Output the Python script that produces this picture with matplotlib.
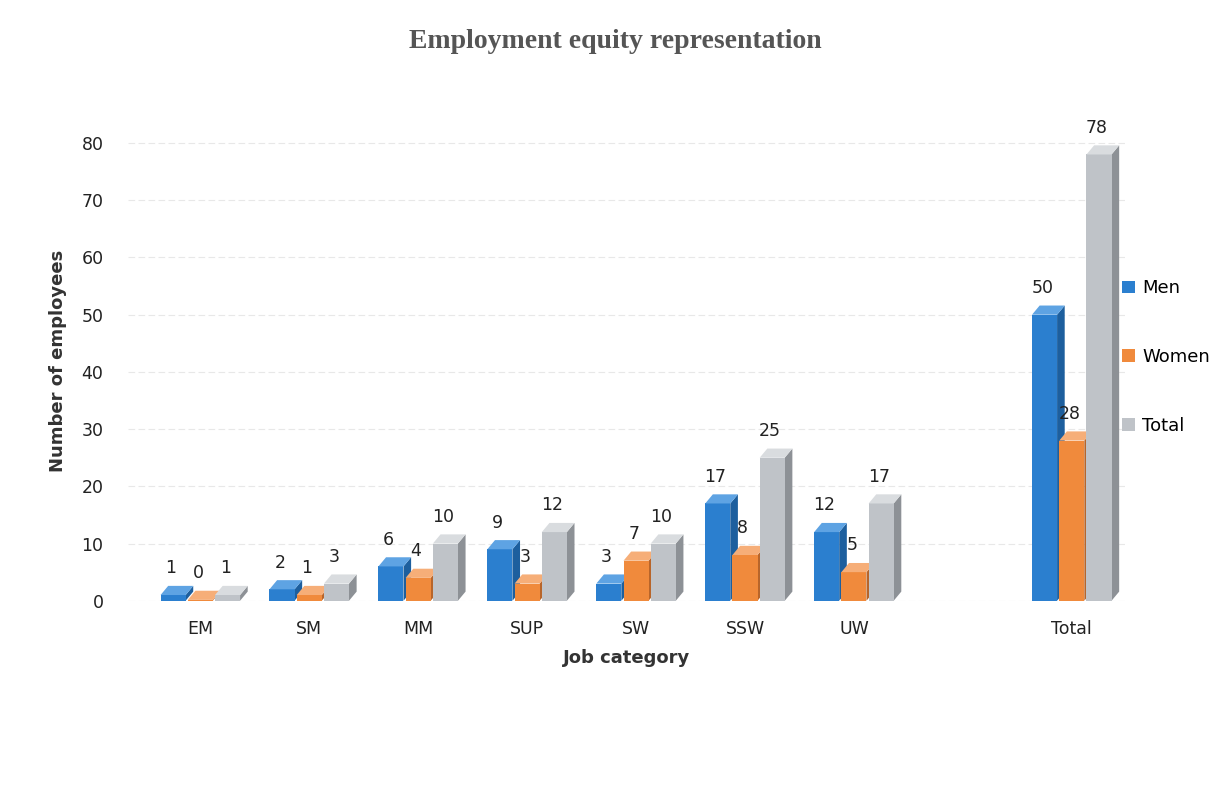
import numpy as np
import matplotlib
matplotlib.use('Agg')
import matplotlib.pyplot as plt
from matplotlib.patches import Polygon, Patch

# data
categories = ['EM', 'SM', 'MM', 'SUP', 'SW', 'SSW', 'UW', 'Total']
men = [1, 2, 6, 9, 3, 17, 12, 50]
women = [0, 1, 4, 3, 7, 8, 5, 28]
total = [1, 3, 10, 12, 10, 25, 17, 78]

series = [('Men', men, '#2b7fcf', '#1d5f9e', '#5ea3e3'),
          ('Women', women, '#f08a3c', '#b8652a', '#f6ae78'),
          ('Total', total, '#bfc3c8', '#8d9196', '#d9dcdf')]

positions = np.array([0, 1, 2, 3, 4, 5, 6, 8], dtype=float)
w = 0.23
step = 0.25
dx = 0.07
dy = 1.6

fig = plt.figure(figsize=(12.23, 8.01), dpi=100)
ax = fig.add_axes([0.105, 0.25, 0.815, 0.60])

for i, (name, vals, face, side, top) in enumerate(series):
    for p, v in zip(positions, vals):
        x0 = p + (i - 1) * step - w / 2
        h = max(v, 0.15)
        ax.add_patch(Polygon([(x0 + w, 0), (x0 + w + dx, dy), (x0 + w + dx, h + dy), (x0 + w, h)],
                             closed=True, facecolor=side, edgecolor='none', zorder=3))
        ax.bar(x0, h, width=w, align='edge', color=face, zorder=3)
        ax.add_patch(Polygon([(x0, h), (x0 + w, h), (x0 + w + dx, h + dy), (x0 + dx, h + dy)],
                             closed=True, facecolor=top, edgecolor='none', zorder=3))
        ax.text(x0 + w / 2 - 0.02, h + dy + 1.5, str(v), ha='center', va='bottom',
                fontsize=12.5, color='#222222', zorder=4)

ax.set_xlim(-0.66, 8.49)
ax.set_ylim(0, 84)
ax.set_yticks(range(0, 81, 10))
ax.set_xticks(positions)
ax.set_xticklabels(categories)
ax.tick_params(axis='both', length=0, labelsize=12.5, colors='#222222')
ax.tick_params(axis='x', pad=14)
ax.tick_params(axis='y', pad=18)
ax.grid(axis='y', color='#e8e8e8', linewidth=0.8, linestyle=(0, (6, 3)))
ax.set_axisbelow(True)
for s in ax.spines.values():
    s.set_visible(False)

ax.set_xlabel('Job category', fontsize=13, fontweight='bold', color='#333333', labelpad=8)
ax.set_ylabel('Number of employees', fontsize=13, fontweight='bold', color='#333333', labelpad=10)

fig.text(0.503, 0.948, 'Employment equity representation', ha='center', va='center',
         fontsize=20, fontweight='bold', family='Liberation Serif', color='#555555')

handles = [Patch(facecolor=s[2], label=s[0]) for s in series]
fig.legend(handles=handles, loc='center left', bbox_to_anchor=(1115 / 1223, 1 - 357 / 801),
           frameon=False, fontsize=13, labelspacing=2.8, handlelength=0.7, handleheight=0.7,
           handletextpad=0.4, borderaxespad=0.0)

fig.savefig('out.png', dpi=100, facecolor='white')
